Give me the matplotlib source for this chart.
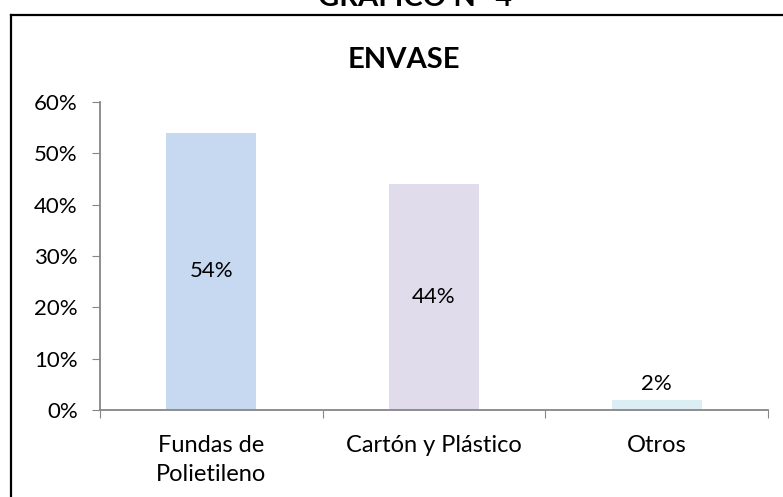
import matplotlib
matplotlib.use('Agg')
import matplotlib.pyplot as plt
from matplotlib.lines import Line2D

plt.rcParams['font.family'] = ['Lato', 'DejaVu Sans']

categories = ['Fundas de\nPolietileno', 'Cartón y Plástico', 'Otros']
values = [0.54, 0.44, 0.02]
labels = ['54%', '44%', '2%']
colors = ['#C6D9F1', '#E1DCEB', '#DAEEF3']
yticks = [0, 0.1, 0.2, 0.3, 0.4, 0.5, 0.6]
ytick_labels = ['0%', '10%', '20%', '30%', '40%', '50%', '60%']

fig = plt.figure(figsize=(7.83, 4.97), dpi=100)
ax = fig.add_axes([100/783, 1-410/497, 668/783, 308/497])

x = range(len(categories))
bars = ax.bar(x, values, width=0.405, color=colors)

# data labels: inside the tall bars, above the small one
for i, (v, lab) in enumerate(zip(values, labels)):
    if v > 0.1:
        ax.text(i, v / 2, lab, ha='center', va='center', fontsize=16)
    else:
        ax.text(i, v + 0.012, lab, ha='center', va='bottom', fontsize=16)

ax.set_xlim(-0.5, 2.5)
ax.set_ylim(0, 0.6)
ax.set_yticks(yticks)
ax.set_yticklabels(ytick_labels, fontsize=16)
ax.set_xticks([-0.5, 0.5, 1.5, 2.5])
ax.set_xticklabels([])
ax.set_xticks(list(x), minor=True)
ax.set_xticklabels(categories, minor=True, fontsize=17, linespacing=1.45)
ax.tick_params(axis='x', which='minor', length=0, pad=18)
ax.tick_params(axis='x', which='major', length=6, color='#868686', direction='out')
ax.tick_params(axis='y', length=6, color='#868686', pad=10)

for s in ['top', 'right']:
    ax.spines[s].set_visible(False)
for s in ['left', 'bottom']:
    ax.spines[s].set_color('#868686')
    ax.spines[s].set_linewidth(1.3)

# chart title
fig.text(404/783, 1-60/497, 'ENVASE', ha='center', va='center', fontsize=21, fontweight='bold')

# page heading partly cut at the top
fig.text(415/783, 1-6/497, 'GRÁFICO N° 4', ha='center', va='baseline', fontsize=21, fontweight='bold')

# chart border (left and top only visible)
fig.add_artist(Line2D([10.5/783, 10.5/783], [0, 1-14.5/497], color='black', lw=1.6, transform=fig.transFigure))
fig.add_artist(Line2D([10.5/783, 1], [1-14.5/497, 1-14.5/497], color='black', lw=1.6, transform=fig.transFigure))

fig.savefig('out.png', dpi=100)
